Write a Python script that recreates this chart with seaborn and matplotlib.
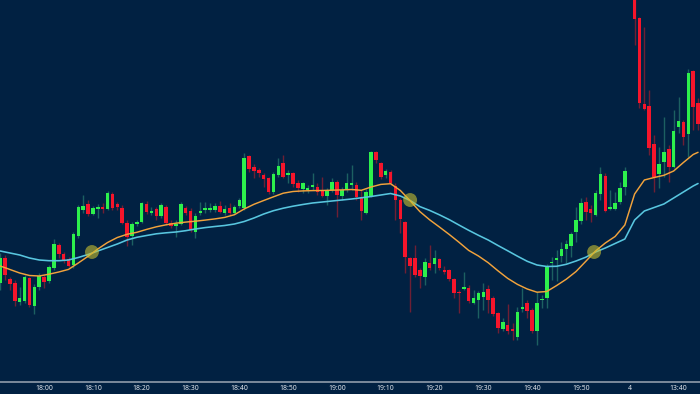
import numpy as np
import pandas as pd
import matplotlib
matplotlib.use("Agg")
import matplotlib.pyplot as plt
import seaborn as sns

# 1-minute candles, index 0 = 17:51 (index 129 has no bar)
nan = np.nan
opens = [117, 142, 121, 117, 98, 99, 122, 94, 113, 123,
         119, 132, 155, 146, 141, 135, 164, 190, 196, 186,
         191, 193, 191, 206, 196, 192, 177, 164, 176, 178,
         196, 187, 191, 184, 193, 177, 174, 176, 192, 189,
         168, 187, 190, 190, 190, 194, 187, 192, 187, 194,
         192, 244, 233, 230, 225, 222, 208, 225, 237, 225,
         227, 217, 211, 210, 213, 213, 210, 204, 210, 218,
         204, 211, 215, 215, 203, 187, 204, 248, 237, 225,
         228, 214, 200, 178, 142, 142, 130, 123, 137, 136,
         141, 130, 130, 121, 108, 111, 112, 97, 100, 103,
         111, 102, 87, 71, 75, 71, 63, 91, 97, 90,
         69, 100, 102, 137, 140, 144, 151, 154, 168, 179,
         198, 191, 185, 206, 224, 191, 191, 198, 213, nan,
         408, 382, 296, 294, 256, 226, 238, 251, 233, 273,
         278, 266, 329, 297]
highs = [147, 145, 123, 120, 113, 125, 123, 116, 127, 125,
         135, 161, 157, 148, 143, 168, 195, 205, 200, 194,
         196, 197, 209, 208, 198, 195, 180, 178, 180, 198,
         199, 193, 193, 197, 195, 180, 180, 198, 194, 192,
         187, 198, 198, 197, 197, 199, 195, 197, 195, 202,
         247, 245, 236, 232, 227, 223, 228, 242, 245, 230,
         228, 220, 218, 215, 227, 217, 223, 212, 222, 220,
         213, 227, 235, 218, 210, 211, 249, 249, 238, 231,
         230, 217, 202, 179, 143, 155, 132, 142, 155, 150,
         142, 134, 131, 122, 110, 128, 115, 110, 109, 117,
         115, 104, 88, 82, 96, 77, 93, 112, 100, 92,
         108, 105, 136, 143, 150, 158, 160, 168, 193, 202,
         203, 195, 210, 233, 227, 210, 208, 218, 233, nan,
         415, 383, 373, 310, 265, 253, 283, 255, 290, 303,
         280, 331, 330, 302]
lows = [110, 120, 110, 94, 95, 97, 93, 86, 110, 112,
        117, 130, 142, 137, 133, 132, 162, 187, 184, 185,
        182, 187, 190, 190, 190, 176, 154, 155, 174, 177,
        186, 185, 180, 182, 175, 172, 163, 175, 185, 168,
        162, 185, 187, 188, 188, 187, 185, 185, 186, 192,
        190, 228, 222, 223, 213, 206, 206, 223, 222, 217,
        213, 208, 207, 207, 210, 205, 203, 195, 208, 183,
        200, 208, 210, 200, 180, 186, 203, 237, 221, 222,
        215, 180, 167, 127, 88, 123, 112, 115, 130, 127,
        130, 126, 119, 102, 87, 110, 97, 96, 82, 90,
        87, 84, 67, 69, 66, 60, 60, 88, 82, 67,
        55, 92, 92, 120, 119, 138, 137, 143, 158, 176,
        180, 178, 184, 200, 188, 190, 190, 196, 205, nan,
        355, 292, 290, 245, 208, 212, 223, 218, 232, 267,
        255, 243, 270, 270]
closes = [142, 125, 116, 99, 102, 123, 95, 113, 124, 118,
          133, 156, 146, 140, 134, 166, 193, 194, 186, 192,
          193, 191, 207, 192, 193, 177, 163, 176, 178, 197,
          188, 189, 184, 195, 177, 174, 176, 196, 187, 170,
          184, 189, 192, 192, 194, 188, 191, 187, 193, 200,
          242, 231, 229, 227, 221, 208, 226, 234, 223, 227,
          216, 212, 217, 212, 215, 208, 204, 210, 218, 205,
          210, 217, 217, 203, 189, 208, 248, 240, 223, 229,
          217, 200, 181, 143, 134, 125, 124, 138, 132, 142,
          132, 128, 121, 107, 107, 113, 99, 102, 107, 108,
          100, 86, 72, 78, 69, 69, 88, 93, 89, 69,
          97, 101, 134, 138, 142, 151, 156, 166, 180, 197,
          188, 187, 207, 226, 189, 193, 197, 212, 229, nan,
          381, 297, 291, 252, 223, 236, 248, 233, 269, 279,
          263, 327, 293, 276]

# moving averages read every second bar
ma_idx = list(range(0, 143, 2)) + [143]
ma_slow = [149, 147, 145, 142, 140, 139.3, 139.3, 140, 142.5, 145.5,
           149, 152.5, 156, 160, 162.7, 164.5, 166.2, 167.2, 168, 169.3,
           171, 172.4, 173.5, 174.5, 176, 178.5, 182, 186, 189.3, 191.8,
           193.8, 195.5, 197, 198, 199, 200, 201, 202.2, 203.5, 205,
           206.5, 204, 199.5, 193.4, 189.6, 185.2, 180.4, 175, 169.7, 164.7,
           160, 154.5, 149.2, 143.8, 138.7, 135, 133.5, 133.7, 135.7, 139,
           142.8, 148, 152, 156.5, 161, 180, 189, 192.5, 196, 202,
           208, 214, 216.5]
ma_fast = [134, 130.5, 127, 124.5, 124, 125.8, 128, 130.6, 137, 143.7,
           151, 157.5, 162.5, 165.7, 167.7, 170.6, 173.2, 175.2, 176.8, 177.9,
           178.8, 179.9, 181.1, 182.6, 185.3, 191, 195.7, 199.5, 203.2, 206.8,
           208.5, 209.1, 209.4, 209.5, 209.8, 210.1, 210.5, 209.7, 213, 215.6,
           216.3, 209.5, 199.3, 188.4, 180.2, 173, 165.6, 157.8, 149.6, 144,
           137.3, 129.2, 121.6, 115.6, 111, 107.8, 108.5, 114.4, 120.8, 128.5,
           138.7, 149, 157, 163.5, 175, 206, 220, 222.5, 224.7, 229,
           237.5, 245.5, 247.7]

# crossover markers
cross_idx = [18.8, 84.0, 121.7]
cross_price = [148, 200, 148]

tick_idx = [9, 19, 29, 39, 49, 59, 69, 79, 89, 99, 109, 119, 129, 139]
tick_labels = ["18:00", "18:10", "18:20", "18:30", "18:40", "18:50", "19:00",
               "19:10", "19:20", "19:30", "19:40", "19:50", "4", "13:40"]

BG = "#012142"
UP, DOWN = "#2df04c", "#f5152b"
UP_WICK, DOWN_WICK = "#1c6061", "#6e1f34"

sns.set_style("dark", {"axes.facecolor": BG, "figure.facecolor": BG})
plt.rcParams["font.family"] = ["Noto Sans", "DejaVu Sans"]

fig, ax = plt.subplots(figsize=(7, 3.94), dpi=100)
ax.set_position([0, 12.5 / 394, 1, 381.5 / 394])

df = pd.DataFrame({"idx": np.arange(len(opens)), "open": opens, "high": highs,
                   "low": lows, "close": closes}).dropna()
up = df[df["close"] >= df["open"]]
dn = df[df["close"] < df["open"]]

ax.vlines(up["idx"], up["low"], up["high"], color=UP_WICK, lw=1.0, zorder=2)
ax.vlines(dn["idx"], dn["low"], dn["high"], color=DOWN_WICK, lw=1.0, zorder=2)
ax.bar(up["idx"], up["close"] - up["open"], bottom=up["open"], width=0.72,
       color=UP, linewidth=0, zorder=3)
ax.bar(dn["idx"], dn["close"] - dn["open"], bottom=dn["open"], width=0.72,
       color=DOWN, linewidth=0, zorder=3)

sns.lineplot(x=ma_idx, y=ma_slow, ax=ax, color="#58c6df", linewidth=1.15, zorder=4)
sns.lineplot(x=ma_idx, y=ma_fast, ax=ax, color="#f2a33c", linewidth=1.05, zorder=4)
sns.scatterplot(x=cross_idx, y=cross_price, ax=ax, s=100, color="#c8c030",
                alpha=0.6, edgecolor="none", zorder=5)

ax.set_xlim(-0.04, 143.4)
ax.set_ylim(18.5, 400)
ax.set_yticks([])
ax.set_xticks(tick_idx)
ax.set_xticklabels(tick_labels, fontsize=4.9, color="#e2e6ec", fontweight="medium")
ax.tick_params(axis="x", length=0, pad=2.3)
ax.grid(False)
for side in ["top", "left", "right"]:
    ax.spines[side].set_visible(False)
ax.spines["bottom"].set_color("#8f9cab")
ax.spines["bottom"].set_linewidth(1.2)
ax.set_xlabel("")
ax.set_ylabel("")

fig.savefig("out.png", dpi=100, facecolor=BG)
